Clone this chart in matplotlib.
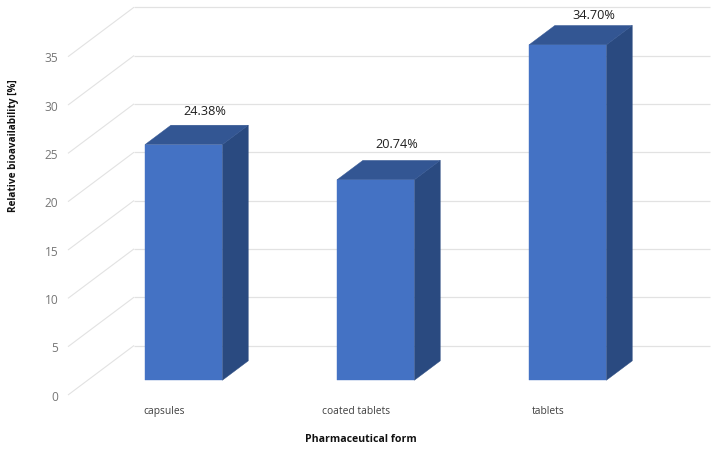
import matplotlib
matplotlib.use("Agg")
import matplotlib.pyplot as plt
from matplotlib.patches import Polygon
from matplotlib.transforms import ScaledTranslation

plt.rcParams['font.family'] = ['Open Sans', 'DejaVu Sans']

forms = ["capsules", "coated tablets", "tablets"]
bioavailability = [24.38, 20.74, 34.70]
y_ticks = [0, 5, 10, 15, 20, 25, 30, 35]

# size of the fake 3D box in data units
depth_x = 0.344
depth_y = 5.12
bar_width = 0.403
bar_front = 0.297
bar_back = 0.69

# nudges for the value labels, in pixels
label_nudge = [(21, 14), (21.5, 16), (26.5, 10)]

W, H = 720, 450
fig = plt.figure(figsize=(W / 100, H / 100), dpi=100)
ax = fig.add_axes([68 / W, 1 - 395 / H, 576 / W, 338.3 / H])
ax.set_xlim(-0.5, 2.5)
ax.set_ylim(0, 35)
for side in ax.spines.values():
    side.set_visible(False)
ax.patch.set_visible(False)

ax.set_xticks(range(len(forms)), forms)
ax.set_yticks(y_ticks)
ax.tick_params(axis="x", length=0, pad=8, labelsize=7.4, labelcolor="#404040")
ax.tick_params(axis="y", length=0, pad=7, labelsize=8.6, labelcolor="#767676")

# y labels sit a touch below their grid line
for lab in ax.get_yticklabels():
    lab.set_transform(lab.get_transform() + ScaledTranslation(0, -0.5 / 72, fig.dpi_scale_trans))

# floor/wall grid lines
grid_color = "#e2e2e2"
for v in y_ticks:
    ax.plot([-0.5, -0.5 + depth_x], [v, v + depth_y], color=grid_color, lw=0.8,
            clip_on=False, zorder=1, solid_capstyle="butt")
    ax.plot([-0.5 + depth_x, 2.5 + depth_x], [v + depth_y, v + depth_y], color=grid_color, lw=0.9,
            clip_on=False, zorder=1, solid_capstyle="butt")

for i, val in enumerate(bioavailability):
    left = i - bar_width / 2 + bar_front * depth_x
    right = i + bar_width / 2 + bar_front * depth_x
    base = bar_front * depth_y
    top = val + base
    dx = (bar_back - bar_front) * depth_x
    dy = (bar_back - bar_front) * depth_y

    ax.add_patch(Polygon([(right, base), (right + dx, base + dy), (right + dx, top + dy), (right, top)],
                         fc="#2a4a80", ec="#2a4a80", lw=0.3, clip_on=False, zorder=3))
    ax.add_patch(Polygon([(left, top), (right, top), (right + dx, top + dy), (left + dx, top + dy)],
                         fc="#335693", ec="#335693", lw=0.3, clip_on=False, zorder=3))
    ax.add_patch(Polygon([(left, base), (right, base), (right, top), (left, top)],
                         fc="#4472c4", ec="#4472c4", lw=0.3, clip_on=False, zorder=4))

    nx, ny = label_nudge[i]
    ax.annotate(f"{val:.2f}%", xy=(i + bar_front * depth_x, top + dy), xytext=(nx * 0.72, ny * 0.72),
                textcoords="offset points", ha="center", va="center", fontsize=9.2,
                color="#202020", annotation_clip=False, zorder=5)

fig.text(13.5 / W, 1 - 146 / H, "Relative bioavailability [%]", rotation=90, ha="center", va="center",
         fontsize=7.2, fontweight="bold", color="#111111")
fig.text(360.5 / W, 1 - 440 / H, "Pharmaceutical form", ha="center", va="center",
         fontsize=7.6, fontweight="bold", color="#111111")

fig.savefig("out.png", dpi=100)
